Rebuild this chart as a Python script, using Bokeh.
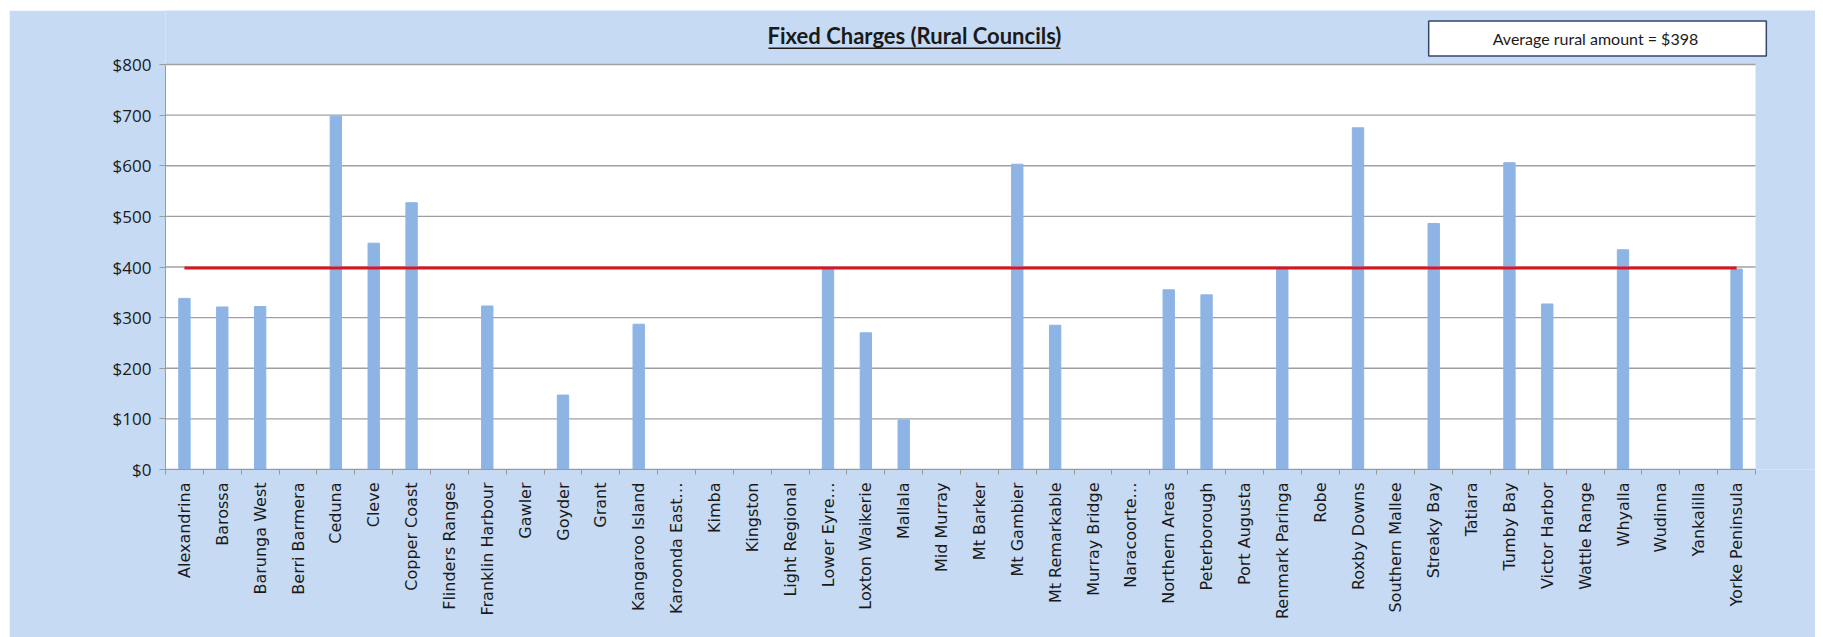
from bokeh.plotting import figure
from bokeh.models import Range1d, NumeralTickFormatter, Label, BoxAnnotation, FixedTicker
from bokeh.embed import file_html
from bokeh.resources import INLINE
import math

councils = ["Alexandrina", "Barossa", "Barunga West", "Berri Barmera", "Ceduna", "Cleve",
            "Copper Coast", "Flinders Ranges", "Franklin Harbour", "Gawler", "Goyder", "Grant",
            "Kangaroo Island", "Karoonda East\u2026", "Kimba", "Kingston", "Light Regional",
            "Lower Eyre\u2026", "Loxton Waikerie", "Mallala", "Mid Murray", "Mt Barker",
            "Mt Gambier", "Mt Remarkable", "Murray Bridge", "Naracoorte\u2026", "Northern Areas",
            "Peterborough", "Port Augusta", "Renmark Paringa", "Robe", "Roxby Downs",
            "Southern Mallee", "Streaky Bay", "Tatiara", "Tumby Bay", "Victor Harbor",
            "Wattle Range", "Whyalla", "Wudinna", "Yankalilla", "Yorke Peninsula"]
fixed_charges = [338, 321, 322, 0, 698, 447, 527, 0, 323, 0, 147, 0,
                 287, 0, 0, 0, 0, 397, 270, 98, 0, 0,
                 603, 285, 0, 0, 355, 345, 0, 395, 0, 675,
                 0, 486, 0, 606, 327, 0, 434, 0, 0, 396]
average_rural = 398
y_ticks = [0, 100, 200, 300, 400, 500, 600, 700, 800]
title_text = "Fixed Charges (Rural Councils)"
box_text = "Average rural  amount = $398"

n = len(councils)
xs = list(range(n))

# layout (pixels)
FIG_W, FIG_H = 1806, 627
PLOT_W = 1590          # white plot area width
RIGHT_STRIP = 60       # blue strip right of plot area inside frame
BL = 156               # left border (axis area)
FH = 459               # frame height
PLOT_H = 405           # height of 0..800
px_per = PLOT_W / n
x_end = n - 0.5 + RIGHT_STRIP / px_per
y_end = 800 * FH / PLOT_H

p = figure(x_range=Range1d(-0.5, x_end), y_range=Range1d(0, y_end),
           frame_width=FIG_W - BL, frame_height=FH,
           min_border_left=BL, min_border_top=0, min_border_right=0,
           min_border_bottom=FIG_H - FH,
           output_backend="svg", toolbar_location=None)
p.margin = (10, 0, 0, 9)

BLUE = "#C6DAF4"
p.background_fill_color = BLUE
p.border_fill_color = BLUE
p.outline_line_color = None
p.xgrid.grid_line_color = None
p.ygrid.grid_line_color = None

# white plot area
p.add_layout(BoxAnnotation(left=-0.5, right=n - 0.5, bottom=0, top=800,
                           fill_color="white", fill_alpha=1, line_color=None, level="image"))
# gridlines
p.segment(x0=[-0.5] * len(y_ticks), x1=[n - 0.5] * len(y_ticks), y0=y_ticks, y1=y_ticks,
          line_color="#A0A0A0", line_width=1.3)

p.vbar(x=xs, top=fixed_charges, width=0.3, color="#8DB4E5")
p.line(x=[xs[0], xs[-1]], y=[average_rural, average_rural],
       line_color="#E0141E", line_width=3)

# y axis
p.yaxis.ticker = y_ticks
p.yaxis.bounds = (0, 800)
p.yaxis.formatter = NumeralTickFormatter(format="$0")
p.yaxis.major_label_text_font = "Open Sans"
p.yaxis.major_label_text_font_size = "17px"
p.yaxis.major_label_text_color = "#1A1A1A"
p.yaxis.axis_line_color = "#9A9A9A"
p.yaxis.major_tick_line_color = "#9A9A9A"
p.yaxis.major_tick_out = 6
p.yaxis.major_tick_in = 0
p.yaxis.minor_tick_line_color = None
p.yaxis.major_label_standoff = 8

# x axis
p.xaxis.ticker = FixedTicker(ticks=xs, minor_ticks=[i - 0.5 for i in range(n + 1)])
p.xaxis.major_label_overrides = {i: name for i, name in zip(xs, councils)}
p.xaxis.bounds = (-0.5, n - 0.5)
p.xaxis.major_label_orientation = math.pi / 2
p.xaxis.major_label_text_font = "DejaVu Sans"
p.xaxis.major_label_text_font_size = "16px"
p.xaxis.major_label_text_color = "#1A1A1A"
p.xaxis.axis_line_color = "#9A9A9A"
p.xaxis.major_tick_line_color = None
p.xaxis.major_tick_out = 0
p.xaxis.major_tick_in = 0
p.xaxis.minor_tick_line_color = "#9A9A9A"
p.xaxis.minor_tick_out = 5
p.xaxis.minor_tick_in = 0
p.xaxis.major_label_standoff = 8

# title (frame-relative screen units, y up from frame bottom)
p.add_layout(Label(x=749, y=434, x_units="screen", y_units="screen",
                   text=title_text, text_font="Lato",
                   text_font_style="bold", text_font_size="22px", text_color="#1A1A1A",
                   text_align="center", text_baseline="middle"))
p.add_layout(BoxAnnotation(left=603, right=895, top=422, bottom=420.5,
                           left_units="screen", right_units="screen",
                           top_units="screen", bottom_units="screen",
                           fill_color="#1A1A1A", fill_alpha=1, line_color=None))

# average box
p.add_layout(Label(x=1432, y=431, x_units="screen", y_units="screen",
                   text=box_text, text_font="Lato",
                   text_font_size="16px", text_color="#1A1A1A",
                   text_align="center", text_baseline="middle",
                   background_fill_color="white", border_line_color="#34466E",
                   border_line_width=1.5, padding=(64, 8)))

open("out.html", "w").write(file_html(p, INLINE))
